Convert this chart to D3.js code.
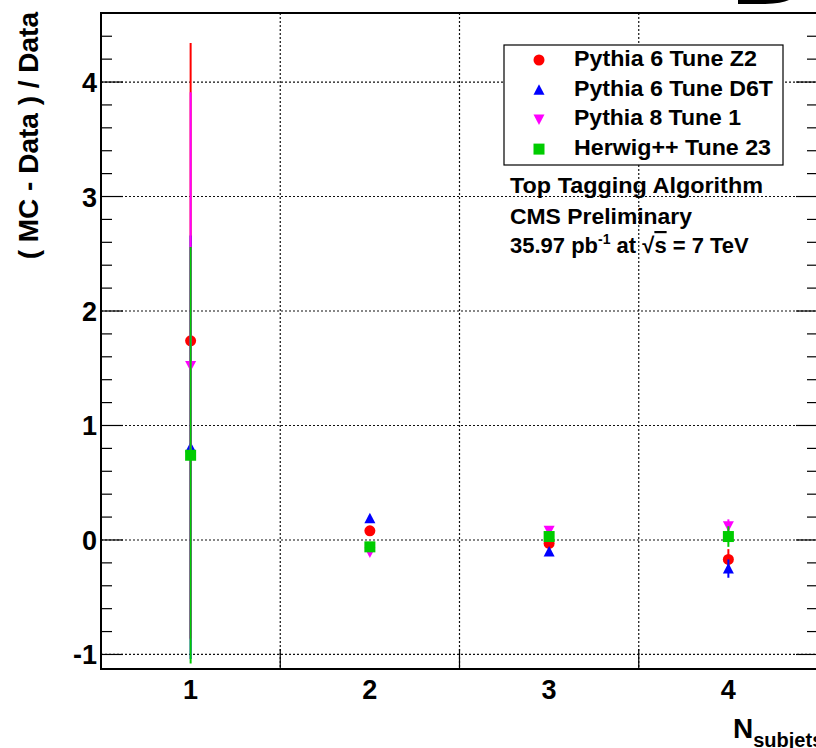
<!DOCTYPE html>
<html>
<head>
<meta charset="utf-8">
<script src="https://cdn.jsdelivr.net/npm/d3@7"></script>
<style>
  body { margin: 0; background: #fff; }
  svg { display: block; font-family: "Liberation Sans", Arial, Helvetica, sans-serif; font-weight: bold; }
</style>
</head>
<body>
<div id="chart"></div>
<script>
'use strict'

// bins (N subjets)
const categories = [1, 2, 3, 4];

// (MC - Data) / Data, with errors
const z2Values    = [1.74, 0.08, -0.03, -0.17];
const z2Errors    = [2.60, 0.03, 0.03, 0.09];
const d6tValues   = [0.81, 0.19, -0.10, -0.25];
const d6tErrors   = [1.85, 0.03, 0.03, 0.08];
const p8Values    = [1.52, -0.11, 0.08, 0.12];
const p8Errors    = [2.39, 0.03, 0.03, 0.06];
const herwigValues = [0.74, -0.06, 0.03, 0.03];
const herwigErrors = [1.82, 0.03, 0.03, 0.09];

const seriesNames = ['Pythia 6 Tune Z2', 'Pythia 6 Tune D6T', 'Pythia 8 Tune 1', 'Herwig++ Tune 23'];
const yTicks = [-1, 0, 1, 2, 3, 4];
const xGrid = [1.5, 2.5, 3.5];
const infoLines = ['Top Tagging Algorithm', 'CMS Preliminary'];

const series = [
    {name: seriesNames[0], values: z2Values, errors: z2Errors, color: '#ff0000', shape: 'circle'},
    {name: seriesNames[1], values: d6tValues, errors: d6tErrors, color: '#0000ff', shape: 'up'},
    {name: seriesNames[2], values: p8Values, errors: p8Errors, color: '#ff00ff', shape: 'down'},
    {name: seriesNames[3], values: herwigValues, errors: herwigErrors, color: '#00cc00', shape: 'square'}
];

const W = 816, H = 748;
const padL = 101, padR = 818, padT = 13, padB = 669;

const svg = d3.select('#chart').append('svg')
    .attr('width', W)
    .attr('height', H);

const x = d3.scaleLinear().domain([0.5, 4.5]).range([padL, padR]);
const y = d3.scaleLinear().domain([-1.127, 4.603]).range([padB, padT]);

// grid
svg.append('g').selectAll('line')
    .data(yTicks)
    .enter().append('line')
    .attr('x1', padL).attr('x2', padR)
    .attr('y1', d => y(d)).attr('y2', d => y(d))
    .style('stroke', '#111').style('stroke-width', 1.2).style('stroke-dasharray', '2,2');
svg.append('g').selectAll('line')
    .data(xGrid)
    .enter().append('line')
    .attr('x1', d => x(d)).attr('x2', d => x(d))
    .attr('y1', padT).attr('y2', padB)
    .style('stroke', '#111').style('stroke-width', 1.2).style('stroke-dasharray', '2,2');

// y ticks, left and right
const minor = d3.range(-1, 4.61, 0.2).map(v => Math.round(v * 10) / 10);
const tickG = svg.append('g').style('stroke', '#000').style('stroke-width', 1.2);
minor.forEach(v => {
    const major = Math.abs(v - Math.round(v)) < 1e-6;
    const len = major ? 22 : 11;
    tickG.append('line').attr('x1', padL).attr('x2', padL + len).attr('y1', y(v)).attr('y2', y(v));
    tickG.append('line').attr('x1', padR).attr('x2', padR - len).attr('y1', y(v)).attr('y2', y(v));
});
xGrid.forEach(v => {
    tickG.append('line').attr('x1', x(v)).attr('x2', x(v)).attr('y1', padB).attr('y2', padB - 20);
});

// frame
svg.append('rect')
    .attr('x', padL).attr('y', padT)
    .attr('width', padR - padL).attr('height', padB - padT)
    .style('fill', 'none').style('stroke', '#000').style('stroke-width', 2);

// tick labels
svg.append('g').selectAll('text')
    .data(yTicks)
    .enter().append('text')
    .attr('x', 97).attr('y', d => y(d) + 10)
    .attr('text-anchor', 'end')
    .style('font-size', '27px')
    .text(d => d);
svg.append('g').selectAll('text')
    .data(categories)
    .enter().append('text')
    .attr('x', d => x(d)).attr('y', 699)
    .attr('text-anchor', 'middle')
    .style('font-size', '27px')
    .text(d => d);

// axis titles
svg.append('text')
    .attr('transform', 'translate(38,12) rotate(-90)')
    .attr('text-anchor', 'end')
    .style('font-size', '28px')
    .text('( MC - Data ) / Data');
const xt = svg.append('text').attr('x', 733).attr('y', 738).style('font-size', '28px');
xt.append('tspan').text('N');
xt.append('tspan').attr('dy', 9).style('font-size', '20px').text('subjets');

// marker drawing
function marker(g, shape, cx, cy, color) {
    if (shape === 'circle') {
        g.append('circle').attr('cx', cx).attr('cy', cy).attr('r', 5.5).style('fill', color);
    } else if (shape === 'square') {
        g.append('rect').attr('x', cx - 5.5).attr('y', cy - 5.5).attr('width', 11).attr('height', 11).style('fill', color);
    } else {
        const s = shape === 'up' ? 1 : -1;
        g.append('path')
            .attr('d', `M${cx - 5.5},${cy + 5 * s} L${cx + 5.5},${cy + 5 * s} L${cx},${cy - 5.5 * s} Z`)
            .style('fill', color);
    }
}

// data, drawn series by series (error bar, then marker)
series.forEach(s => {
    const g = svg.append('g');
    categories.forEach((c, i) => {
        g.append('line')
            .attr('x1', x(c)).attr('x2', x(c))
            .attr('y1', y(s.values[i] + s.errors[i]))
            .attr('y2', y(s.values[i] - s.errors[i]))
            .style('stroke', s.color).style('stroke-width', 2);
        marker(g, s.shape, x(c), y(s.values[i]), s.color);
    });
});

// legend
const lg = svg.append('g');
lg.append('rect')
    .attr('x', 504).attr('y', 45).attr('width', 279).attr('height', 120)
    .style('fill', '#fff').style('stroke', '#000').style('stroke-width', 1.2);
const legendWidths = [183, 199, 167, 197];
series.forEach((s, i) => {
    const base = 66 + i * 29.7;
    marker(lg, s.shape, 539, base - 6, s.color);
    lg.append('text')
        .attr('x', 574).attr('y', base)
        .attr('textLength', legendWidths[i]).attr('lengthAdjust', 'spacingAndGlyphs')
        .style('font-size', '22px')
        .text(s.name);
});

// info text
const infoWidths = [253, 182];
infoLines.forEach((t, i) => {
    svg.append('text')
        .attr('x', 510).attr('y', 193 + i * 30.5)
        .attr('textLength', infoWidths[i]).attr('lengthAdjust', 'spacingAndGlyphs')
        .style('font-size', '22px')
        .text(t);
});
const lumi = svg.append('text').attr('x', 510).attr('y', 253).style('font-size', '22px');
lumi.append('tspan').text('35.97 pb');
lumi.append('tspan').attr('dy', -9).style('font-size', '14px').text('-1');
lumi.append('tspan').attr('dy', 9).text(' at \u221A');
lumi.append('tspan').style('text-decoration', 'overline').text('s');
lumi.append('tspan').text(' = 7 TeV');

// edge of the logo cut off at the top right
svg.append('path')
    .attr('d', 'M738,0 L738,4 L765,4 Q782,3.5 789,0 Z')
    .style('fill', '#000');
</script>
</body>
</html>
